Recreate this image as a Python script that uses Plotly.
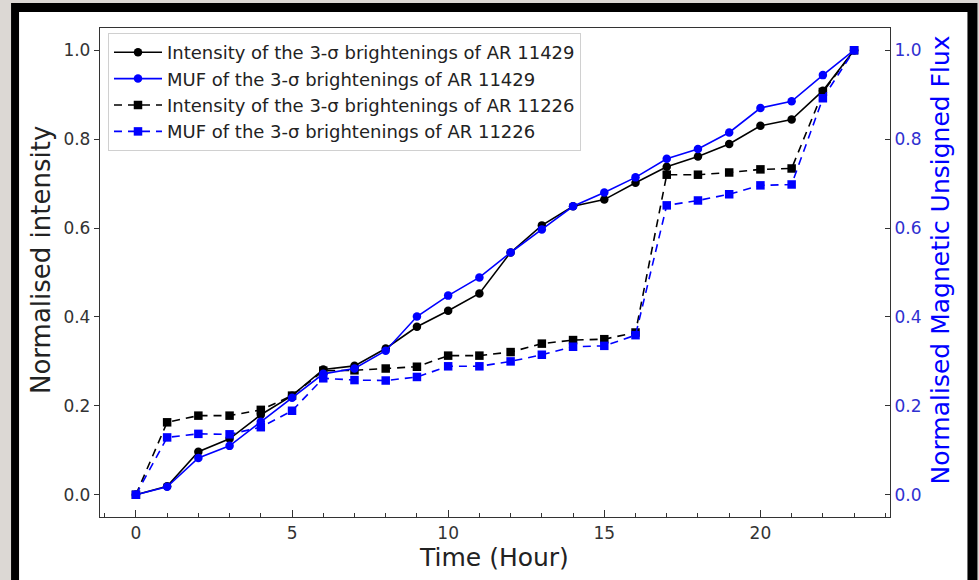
import plotly.graph_objects as go

# ---------------- data ----------------
hours = list(range(24))
int_11429 = [0.0, 0.019, 0.097, 0.126, 0.18, 0.223, 0.282, 0.29, 0.329, 0.378, 0.414, 0.453,
             0.545, 0.606, 0.649, 0.664, 0.702, 0.738, 0.761, 0.789, 0.83, 0.844, 0.909, 1.0]
muf_11429 = [0.0, 0.018, 0.083, 0.11, 0.164, 0.218, 0.272, 0.284, 0.324, 0.401, 0.448, 0.489,
             0.545, 0.597, 0.649, 0.68, 0.714, 0.756, 0.778, 0.815, 0.87, 0.885, 0.944, 1.0]
int_11226 = [0.0, 0.163, 0.178, 0.178, 0.191, 0.223, 0.279, 0.28, 0.284, 0.288, 0.313, 0.313,
             0.321, 0.34, 0.348, 0.35, 0.365, 0.72, 0.72, 0.725, 0.732, 0.734, 0.906, 1.0]
muf_11226 = [0.0, 0.129, 0.137, 0.136, 0.152, 0.189, 0.262, 0.258, 0.257, 0.265, 0.289, 0.289,
             0.3, 0.315, 0.333, 0.335, 0.359, 0.651, 0.662, 0.676, 0.696, 0.698, 0.892, 1.0]
x_ticks = [0, 5, 10, 15, 20]
y_ticks = [0.0, 0.2, 0.4, 0.6, 0.8, 1.0]
y_ticklabels = ["0.0", "0.2", "0.4", "0.6", "0.8", "1.0"]

names = [
    "Intensity of the 3-σ brightenings of AR 11429",
    "MUF of the 3-σ brightenings of AR 11429",
    "Intensity of the 3-σ brightenings of AR 11226",
    "MUF of the 3-σ brightenings of AR 11226",
]
x_title = "Time (Hour)"
y_title = "Normalised intensity"
y2_title = "Normalised Magnetic Unsigned Flux"

BLUE = "#0000ff"
BLACK = "#000000"
FONT = "DejaVu Sans"

W, H = 979, 580
ML, MR, MT, MB = 100, 88.5, 28, 63
PW, PH = W - ML - MR, H - MT - MB


def px(x):
    return (x - ML) / PW


def py(y):
    return (H - MB - y) / PH


fig = go.Figure()
series = [
    (int_11429, BLACK, "solid", "circle", "y"),
    (muf_11429, BLUE, "solid", "circle", "y2"),
    (int_11226, BLACK, "8px,6px", "square", "y"),
    (muf_11226, BLUE, "8px,6px", "square", "y2"),
]
for i, (vals, col, dash, sym, ax) in enumerate(series):
    fig.add_trace(go.Scatter(
        x=hours, y=vals, name=names[i], mode="lines+markers", yaxis=ax,
        legendgroup=f"g{i}",
        line=dict(color=col, width=1.6, dash=dash),
        marker=dict(color=col, size=8.5, symbol=sym, line=dict(width=0)),
    ))

# photographed screen frame
shapes = [
    dict(type="rect", xref="paper", yref="paper", x0=px(11), x1=px(978), y0=py(3), y1=py(590),
         fillcolor="#000000", line=dict(width=0), layer="below"),
    dict(type="rect", xref="paper", yref="paper", x0=px(19), x1=px(968), y0=py(12), y1=py(590),
         fillcolor="#ffffff", line=dict(width=0), layer="below"),
]

annotations = [
    dict(text=y_title, xref="paper", yref="paper", x=px(41), y=py(260), textangle=-90,
         xanchor="center", yanchor="middle", showarrow=False,
         font=dict(family=FONT, size=26, color="#222222")),
    dict(text=y2_title, xref="paper", yref="paper", x=px(941), y=py(260), textangle=-90,
         xanchor="center", yanchor="middle", showarrow=False,
         font=dict(family=FONT, size=25, color=BLUE)),
    dict(text=x_title, xref="paper", yref="paper", x=px(494), y=py(557),
         xanchor="center", yanchor="middle", showarrow=False,
         font=dict(family=FONT, size=25, color="#222222")),
]

axis_common = dict(showgrid=False, zeroline=False, showline=True, linecolor="#333333", linewidth=1.3)

fig.update_layout(
    width=W, height=H,
    margin=dict(l=ML, r=MR, t=MT, b=MB, pad=0),
    paper_bgcolor="#dcd8d4", plot_bgcolor="#ffffff",
    font=dict(family=FONT, color="#222222"),
    shapes=shapes,
    annotations=annotations,
    showlegend=True,
    legend=dict(
        x=px(108), y=py(33), xanchor="left", yanchor="top",
        bgcolor="rgba(255,255,255,0.85)", bordercolor="#d0d0d0", borderwidth=1,
        font=dict(family=FONT, size=18, color="#222222"),
        traceorder="grouped", tracegroupgap=0, itemwidth=48,
    ),
    xaxis=dict(
        **axis_common, mirror=True, range=[-1.15, 24.15],
        tickmode="array", tickvals=x_ticks, ticks="inside", ticklen=7, tickcolor="#333333",
        tickfont=dict(family=FONT, size=17, color="#333333"),
        minor=dict(dtick=1, ticks="inside", ticklen=4, tickcolor="#333333", tick0=0),
    ),
    yaxis=dict(
        **axis_common, mirror=True, range=[-0.05, 1.05],
        tickmode="array", tickvals=y_ticks, ticktext=y_ticklabels,
        ticks="outside", ticklen=5, tickcolor="#333333",
        tickfont=dict(family=FONT, size=17, color="#333333"),
    ),
    yaxis2=dict(
        **axis_common, overlaying="y", side="right", range=[-0.05, 1.05],
        tickmode="array", tickvals=y_ticks, ticktext=y_ticklabels,
        ticks="inside", ticklen=5, tickcolor="#333333",
        tickfont=dict(family=FONT, size=17, color="#3030d0"),
    ),
)

fig.write_html("out.html")
